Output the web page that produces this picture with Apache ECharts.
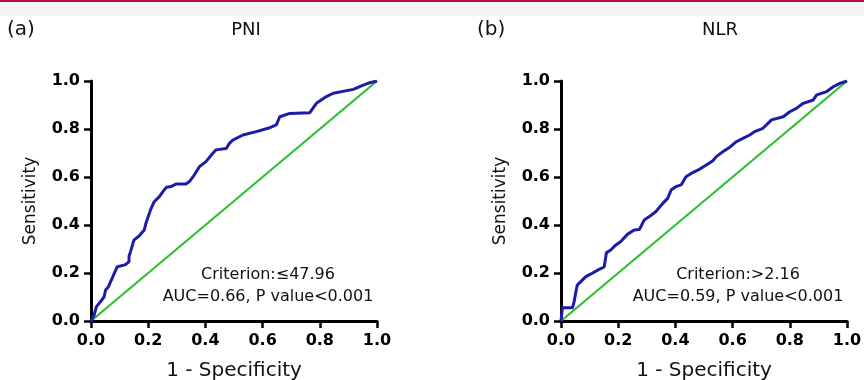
<!DOCTYPE html>
<html>
<head>
<meta charset="utf-8">
<script src="https://cdn.jsdelivr.net/npm/echarts@6/dist/echarts.min.js"></script>
<style>
  html, body { margin: 0; padding: 0; background: #fff; }
  #chart { width: 864px; height: 380px; }
</style>
</head>
<body>
<div id="chart"></div>
<script>
// ROC curve points
var pniFpr = [0, 0.011, 0.019, 0.033, 0.046, 0.051, 0.061, 0.069, 0.074, 0.084, 0.092, 0.115, 0.122, 0.133, 0.133, 0.138, 0.150, 0.168, 0.186, 0.192, 0.202, 0.208, 0.221, 0.239, 0.256, 0.264, 0.280, 0.297, 0.332, 0.344, 0.361, 0.379, 0.402, 0.426, 0.437, 0.473, 0.484, 0.496, 0.531, 0.578, 0.619, 0.648, 0.660, 0.695, 0.765, 0.788, 0.823, 0.847, 0.917, 0.952, 0.975, 1.0];
var pniTpr = [0, 0.025, 0.060, 0.080, 0.101, 0.129, 0.143, 0.165, 0.178, 0.206, 0.226, 0.233, 0.236, 0.247, 0.270, 0.288, 0.337, 0.354, 0.379, 0.407, 0.442, 0.463, 0.497, 0.518, 0.546, 0.557, 0.560, 0.571, 0.571, 0.581, 0.608, 0.643, 0.664, 0.699, 0.713, 0.719, 0.740, 0.754, 0.775, 0.789, 0.803, 0.817, 0.851, 0.865, 0.868, 0.907, 0.935, 0.949, 0.965, 0.983, 0.993, 1.0];

var nlrFpr = [0, 0.005, 0.040, 0.046, 0.051, 0.057, 0.069, 0.087, 0.103, 0.133, 0.151, 0.159, 0.174, 0.192, 0.209, 0.233, 0.256, 0.274, 0.291, 0.309, 0.332, 0.356, 0.373, 0.385, 0.402, 0.420, 0.437, 0.455, 0.484, 0.508, 0.531, 0.543, 0.567, 0.590, 0.613, 0.636, 0.660, 0.677, 0.706, 0.736, 0.777, 0.800, 0.823, 0.847, 0.882, 0.894, 0.929, 0.952, 0.975, 1.0];
var nlrTpr = [0, 0.055, 0.055, 0.081, 0.115, 0.150, 0.164, 0.185, 0.195, 0.215, 0.225, 0.285, 0.296, 0.317, 0.331, 0.362, 0.379, 0.381, 0.421, 0.435, 0.456, 0.490, 0.511, 0.546, 0.560, 0.567, 0.601, 0.615, 0.632, 0.650, 0.668, 0.685, 0.706, 0.724, 0.747, 0.761, 0.775, 0.789, 0.803, 0.838, 0.851, 0.872, 0.886, 0.907, 0.921, 0.942, 0.956, 0.976, 0.990, 1.0];

var refLine = [0, 1];
var panelLabels = ["(a)", "(b)"];
var panelTitles = ["PNI", "NLR"];
var criteria = ["Criterion:\u226447.96", "Criterion:>2.16"];
var aucTexts = ["AUC=0.66, P value<0.001", "AUC=0.59, P value<0.001"];

var FONT = "'DejaVu Sans', 'Liberation Sans', Arial, sans-serif";

function zip(a, b) {
  var out = [];
  for (var i = 0; i < a.length; i++) out.push([a[i], b[i]]);
  return out;
}

function xAxisOf(idx) {
  return {
    gridIndex: idx, type: "value", min: 0, max: 1, interval: 0.2,
    name: "1 - Specificity", nameLocation: "middle", nameGap: 40,
    nameTextStyle: { fontFamily: FONT, fontSize: 20, color: "#111" },
    axisLine: { onZero: false, lineStyle: { color: "#000", width: 3 } },
    axisTick: { length: 7, lineStyle: { color: "#000", width: 2.5 } },
    axisLabel: {
      margin: 12, fontFamily: FONT, fontSize: 16, fontWeight: "bold", color: "#000",
      formatter: function (v) { return v.toFixed(1); }
    },
    splitLine: { show: false }
  };
}

function yAxisOf(idx) {
  return {
    gridIndex: idx, type: "value", min: 0, max: 1, interval: 0.2,
    name: "Sensitivity", nameLocation: "middle", nameGap: 52,
    nameTextStyle: { fontFamily: FONT, fontSize: 17, color: "#111" },
    axisLine: { onZero: false, lineStyle: { color: "#000", width: 3 } },
    axisTick: { length: 7, lineStyle: { color: "#000", width: 2.5 } },
    axisLabel: {
      margin: 11, fontFamily: FONT, fontSize: 16, fontWeight: "bold", color: "#000",
      formatter: function (v) { return v.toFixed(1); }
    },
    splitLine: { show: false }
  };
}

function rocSeries(idx, fpr, tpr) {
  return {
    type: "line", xAxisIndex: idx, yAxisIndex: idx,
    data: zip(fpr, tpr), symbol: "none", z: 3,
    lineStyle: { color: "#1c1ca8", width: 3 }
  };
}

function diagSeries(idx) {
  return {
    type: "line", xAxisIndex: idx, yAxisIndex: idx,
    data: zip(refLine, refLine), symbol: "none", z: 2,
    lineStyle: { color: "#2ec02e", width: 2.2 }
  };
}

function txt(x, y, s, size, align) {
  return {
    type: "text", x: x, y: y, z: 10,
    style: { text: s, font: size + "px " + FONT, fill: "#111", textAlign: align || "center", textVerticalAlign: "middle" }
  };
}

var chart = echarts.init(document.getElementById("chart"), null, { renderer: "canvas" });

chart.setOption({
  animation: false,
  backgroundColor: "#fff",
  grid: [
    { left: 91, top: 81, width: 286, height: 240, outerBoundsMode: "none" },
    { left: 561, top: 81, width: 286, height: 240, outerBoundsMode: "none" }
  ],
  xAxis: [xAxisOf(0), xAxisOf(1)],
  yAxis: [yAxisOf(0), yAxisOf(1)],
  series: [
    diagSeries(0), rocSeries(0, pniFpr, pniTpr),
    diagSeries(1), rocSeries(1, nlrFpr, nlrTpr)
  ],
  graphic: [
    { type: "rect", shape: { x: 0, y: 0, width: 864, height: 16 }, style: { fill: "#f5f5f5" }, z: 0 },
    { type: "rect", shape: { x: 0, y: 0, width: 864, height: 2 }, style: { fill: "#b3123f" }, z: 1 },
    txt(7, 30, panelLabels[0], 20, "left"),
    txt(246, 30, panelTitles[0], 18),
    txt(477, 30, panelLabels[1], 20, "left"),
    txt(720, 30, panelTitles[1], 18),
    txt(268, 275, criteria[0], 16),
    txt(268, 297, aucTexts[0], 16),
    txt(738, 275, criteria[1], 16),
    txt(738, 297, aucTexts[1], 16)
  ]
});
</script>
</body>
</html>
